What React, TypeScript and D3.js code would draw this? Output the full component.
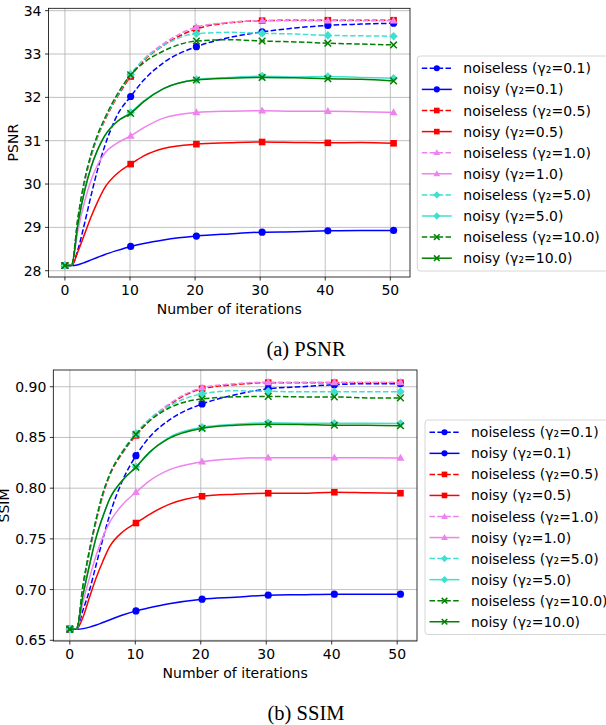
import React from "react";
import * as d3 from "d3";

// iteration positions of the stored samples (markers every 10th iteration)
const iterations = [0, 1.01, 2.02, 3.03, 4.04, 5.05, 6.06, 8.08, 10.1, 12.12, 15.15, 20.2, 25.25, 30.3, 35.35, 40.4, 45.45, 50.5];
const markerIdx = [0, 8, 11, 13, 15, 17];
const xTicks = [0, 10, 20, 30, 40, 50];

// PSNR
const psnrNoiseless01 = [28.12, 28.12, 28.5, 29.1, 29.75, 30.35, 30.85, 31.6, 32.02, 32.4, 32.8, 33.17, 33.38, 33.51, 33.6, 33.66, 33.69, 33.71];
const psnrNoisy01 = [28.12, 28.12, 28.14, 28.19, 28.25, 28.31, 28.37, 28.47, 28.56, 28.63, 28.71, 28.8, 28.85, 28.89, 28.9, 28.92, 28.93, 28.93];
const psnrNoiseless05 = [28.12, 28.12, 29.2, 30.05, 30.65, 31.1, 31.45, 32.02, 32.48, 32.85, 33.2, 33.58, 33.72, 33.77, 33.78, 33.78, 33.78, 33.78];
const psnrNoisy05 = [28.12, 28.12, 28.45, 28.85, 29.25, 29.6, 29.9, 30.25, 30.46, 30.65, 30.82, 30.92, 30.95, 30.97, 30.96, 30.95, 30.96, 30.94];
const psnrNoiseless10 = [28.12, 28.12, 29.22, 30.08, 30.68, 31.12, 31.48, 32.05, 32.52, 32.88, 33.24, 33.62, 33.73, 33.77, 33.77, 33.77, 33.77, 33.77];
const psnrNoisy10 = [28.12, 28.12, 28.95, 29.6, 30.1, 30.45, 30.7, 30.95, 31.11, 31.3, 31.52, 31.65, 31.68, 31.69, 31.68, 31.68, 31.67, 31.65];
const psnrNoiseless50 = [28.12, 28.12, 29.22, 30.08, 30.68, 31.12, 31.48, 32.06, 32.53, 32.87, 33.2, 33.47, 33.5, 33.48, 33.46, 33.43, 33.42, 33.41];
const psnrNoisy50 = [28.12, 28.12, 29.1, 29.85, 30.4, 30.8, 31.1, 31.45, 31.65, 31.92, 32.2, 32.41, 32.46, 32.49, 32.47, 32.48, 32.46, 32.44];
const psnrNoiseless100 = [28.12, 28.12, 29.25, 30.1, 30.7, 31.15, 31.5, 32.08, 32.52, 32.8, 33.07, 33.3, 33.33, 33.3, 33.28, 33.25, 33.23, 33.21];
const psnrNoisy100 = [28.12, 28.12, 29.1, 29.85, 30.4, 30.8, 31.1, 31.45, 31.63, 31.9, 32.2, 32.4, 32.44, 32.46, 32.45, 32.43, 32.42, 32.38];

// SSIM
const ssimNoiseless01 = [0.661, 0.661, 0.68, 0.7, 0.725, 0.75, 0.773, 0.808, 0.832, 0.85, 0.867, 0.883, 0.892, 0.898, 0.9, 0.902, 0.903, 0.903];
const ssimNoisy01 = [0.661, 0.661, 0.6615, 0.663, 0.665, 0.6675, 0.67, 0.675, 0.679, 0.682, 0.686, 0.6905, 0.6925, 0.6945, 0.695, 0.6955, 0.6955, 0.6955];
const ssimNoiseless05 = [0.661, 0.661, 0.703, 0.738, 0.768, 0.793, 0.812, 0.835, 0.852, 0.866, 0.882, 0.898, 0.902, 0.904, 0.904, 0.904, 0.904, 0.904];
const ssimNoisy05 = [0.661, 0.661, 0.673, 0.693, 0.712, 0.728, 0.742, 0.757, 0.7656, 0.774, 0.784, 0.792, 0.794, 0.795, 0.795, 0.796, 0.7955, 0.795];
const ssimNoiseless10 = [0.661, 0.661, 0.704, 0.739, 0.769, 0.794, 0.813, 0.836, 0.853, 0.867, 0.883, 0.899, 0.903, 0.9045, 0.9045, 0.9045, 0.9045, 0.9045];
const ssimNoisy10 = [0.661, 0.661, 0.688, 0.712, 0.734, 0.752, 0.766, 0.784, 0.796, 0.807, 0.818, 0.826, 0.829, 0.83, 0.83, 0.83, 0.83, 0.8298];
const ssimNoiseless50 = [0.661, 0.661, 0.705, 0.74, 0.77, 0.795, 0.813, 0.837, 0.854, 0.868, 0.881, 0.893, 0.896, 0.8955, 0.895, 0.895, 0.895, 0.895];
const ssimNoisy50 = [0.661, 0.661, 0.695, 0.725, 0.752, 0.772, 0.789, 0.808, 0.821, 0.835, 0.85, 0.86, 0.863, 0.8645, 0.864, 0.864, 0.864, 0.8638];
const ssimNoiseless100 = [0.661, 0.661, 0.705, 0.74, 0.77, 0.795, 0.813, 0.836, 0.853, 0.866, 0.879, 0.888, 0.89, 0.8905, 0.89, 0.89, 0.889, 0.889];
const ssimNoisy100 = [0.661, 0.661, 0.695, 0.725, 0.752, 0.772, 0.789, 0.808, 0.8206, 0.835, 0.849, 0.859, 0.862, 0.863, 0.8628, 0.862, 0.862, 0.8615];

const seriesLabels = [
  "noiseless (γ₂=0.1)", "noisy (γ₂=0.1)",
  "noiseless (γ₂=0.5)", "noisy (γ₂=0.5)",
  "noiseless (γ₂=1.0)", "noisy (γ₂=1.0)",
  "noiseless (γ₂=5.0)", "noisy (γ₂=5.0)",
  "noiseless (γ₂=10.0)", "noisy (γ₂=10.0)",
];
const seriesColors = ["#0000ff", "#0000ff", "#ff0000", "#ff0000", "#ee82ee", "#ee82ee", "#40e0d0", "#40e0d0", "#008000", "#008000"];
const seriesMarkers = ["o", "o", "s", "s", "^", "^", "D", "D", "x", "x"];
const seriesDashed = [true, false, true, false, true, false, true, false, true, false];

const psnrSeries = [psnrNoiseless01, psnrNoisy01, psnrNoiseless05, psnrNoisy05, psnrNoiseless10, psnrNoisy10, psnrNoiseless50, psnrNoisy50, psnrNoiseless100, psnrNoisy100];
const ssimSeries = [ssimNoiseless01, ssimNoisy01, ssimNoiseless05, ssimNoisy05, ssimNoiseless10, ssimNoisy10, ssimNoiseless50, ssimNoisy50, ssimNoiseless100, ssimNoisy100];

const psnrTicks = [28, 29, 30, 31, 32, 33, 34];
const ssimTicks = [0.65, 0.7, 0.75, 0.8, 0.85, 0.9];

const FONT = "DejaVu Sans, sans-serif";

function Marker({ type, x, y, color, k = 1 }: { type: string; x: number; y: number; color: string; k?: number }) {
  if (type === "o") return <circle cx={x} cy={y} r={3.6 * k} fill={color} />;
  if (type === "s") return <rect x={x - 3.3 * k} y={y - 3.3 * k} width={6.6 * k} height={6.6 * k} fill={color} />;
  if (type === "^") return <path d={`M${x},${y - 4.2 * k}L${x + 4 * k},${y + 2.8 * k}L${x - 4 * k},${y + 2.8 * k}Z`} fill={color} />;
  if (type === "D") return <path d={`M${x},${y - 4.3 * k}L${x + 4.3 * k},${y}L${x},${y + 4.3 * k}L${x - 4.3 * k},${y}Z`} fill={color} />;
  const h = 3.3 * k;
  return <path d={`M${x - h},${y - h}L${x + h},${y + h}M${x - h},${y + h}L${x + h},${y - h}`} stroke={color} strokeWidth={1.5} />;
}

type PanelProps = {
  left: number; right: number; top: number; bottom: number;
  yDomain: [number, number]; yTicks: number[]; yFmt: (v: number) => string;
  series: number[][]; ylabel: string; ylabelX: number;
  legendX: number; legendY: number; legendRow0: number; legendStep: number;
  caption: string; captionY: number;
};

function Panel(p: PanelProps) {
  const x = d3.scaleLinear().domain([-2.525, 53.025]).range([p.left, p.right]);
  const y = d3.scaleLinear().domain(p.yDomain).range([p.bottom, p.top]);
  const line = d3.line<number>().x((_, i) => x(iterations[i])).y((d) => y(d)).curve(d3.curveMonotoneX);
  const clipId = "clip" + p.ylabel;
  return (
    <g>
      <defs>
        <clipPath id={clipId}>
          <rect x={p.left} y={p.top} width={p.right - p.left} height={p.bottom - p.top} />
        </clipPath>
      </defs>
      {/* grid */}
      {xTicks.map((t) => (
        <line key={"gx" + t} x1={x(t)} x2={x(t)} y1={p.top} y2={p.bottom} stroke="#b0b0b0" strokeWidth={0.8} />
      ))}
      {p.yTicks.map((t) => (
        <line key={"gy" + t} x1={p.left} x2={p.right} y1={y(t)} y2={y(t)} stroke="#b0b0b0" strokeWidth={0.8} />
      ))}
      {/* series */}
      <g clipPath={`url(#${clipId})`}>
        {p.series.map((s, k) => (
          <g key={"s" + k}>
            <path d={line(s) || ""} fill="none" stroke={seriesColors[k]} strokeWidth={1.5}
              strokeDasharray={seriesDashed[k] ? "5.5,2.4" : undefined} />
            {markerIdx.map((i) => (
              <Marker key={i} type={seriesMarkers[k]} x={x(iterations[i])} y={y(s[i])} color={seriesColors[k]} />
            ))}
          </g>
        ))}
      </g>
      {/* frame */}
      <rect x={p.left} y={p.top} width={p.right - p.left} height={p.bottom - p.top} fill="none" stroke="#000" strokeWidth={0.8} />
      {/* x ticks */}
      {xTicks.map((t) => (
        <g key={"tx" + t}>
          <line x1={x(t)} x2={x(t)} y1={p.bottom} y2={p.bottom + 3.5} stroke="#000" strokeWidth={0.8} />
          <text x={x(t)} y={p.bottom + 17.5} textAnchor="middle" fontSize={14} fontFamily={FONT}>{t}</text>
        </g>
      ))}
      {p.yTicks.map((t) => (
        <g key={"ty" + t}>
          <line x1={p.left - 3.5} x2={p.left} y1={y(t)} y2={y(t)} stroke="#000" strokeWidth={0.8} />
          <text x={p.left - 7} y={y(t)} dy="0.36em" textAnchor="end" fontSize={14} fontFamily={FONT}>{p.yFmt(t)}</text>
        </g>
      ))}
      <text x={(p.left + p.right) / 2} y={p.bottom + 37} textAnchor="middle" fontSize={14} fontFamily={FONT}>
        Number of iterations
      </text>
      <text transform={`translate(${p.ylabelX},${(p.top + p.bottom) / 2}) rotate(-90)`} textAnchor="middle" fontSize={14} fontFamily={FONT}>
        {p.ylabel}
      </text>
      {/* legend */}
      <rect x={p.legendX} y={p.legendY} width={220} height={p.legendStep * 10 + 4} rx={3} fill="#fff" fillOpacity={0.8} stroke="#cccccc" strokeWidth={0.8} />
      {seriesLabels.map((lab, k) => {
        const ly = p.legendRow0 + k * p.legendStep;
        const lx = p.legendX + 4.5;
        return (
          <g key={"lg" + k}>
            <line x1={lx} x2={lx + 30} y1={ly} y2={ly} stroke={seriesColors[k]} strokeWidth={1.5}
              strokeDasharray={seriesDashed[k] ? "5.5,2.4" : undefined} />
            <Marker type={seriesMarkers[k]} x={lx + 15} y={ly} color={seriesColors[k]} k={0.85} />
            <text x={lx + 41.5} y={ly} dy="0.36em" fontSize={14} fontFamily={FONT}>{lab}</text>
          </g>
        );
      })}
      <text x={306} y={p.captionY} textAnchor="middle" fontSize={20.5} fontFamily="Liberation Serif, Times New Roman, serif">
        {p.caption}
      </text>
    </g>
  );
}

export default function App() {
  return (
    <svg width={606} height={725} style={{ position: "absolute", left: 0, top: 0, background: "#fff" }}>
      <rect width={606} height={725} fill="#fff" />
      <Panel left={48.5} right={410} top={8.3} bottom={277} yDomain={[27.855, 34.055]} yTicks={psnrTicks}
        yFmt={(v) => String(v)} series={psnrSeries} ylabel="PSNR" ylabelX={18.3}
        legendX={417.3} legendY={56} legendRow0={68.3} legendStep={21.1}
        caption="(a) PSNR" captionY={356} />
      <Panel left={53.3} right={417} top={370} bottom={641} yDomain={[0.6493, 0.9165]} yTicks={ssimTicks}
        yFmt={(v) => v.toFixed(2)} series={ssimSeries} ylabel="SSIM" ylabelX={8.5}
        legendX={425} legendY={420} legendRow0={432.3} legendStep={21.05}
        caption="(b) SSIM" captionY={720} />
    </svg>
  );
}
